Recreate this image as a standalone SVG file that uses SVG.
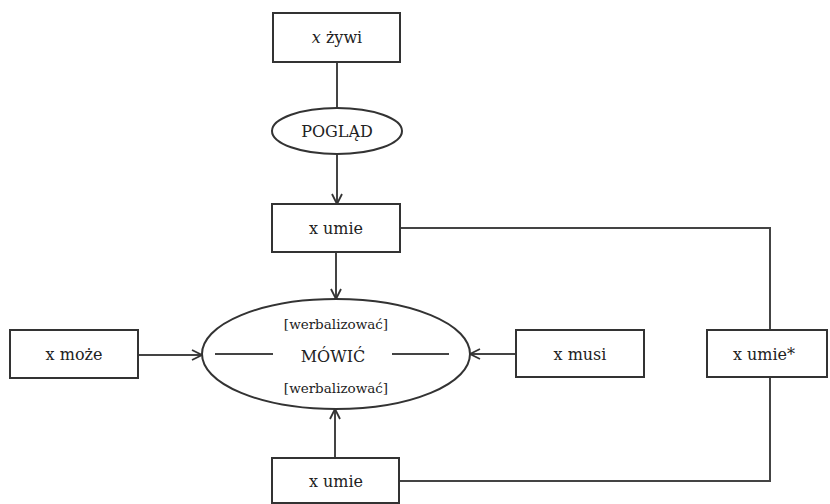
<svg xmlns="http://www.w3.org/2000/svg" width="830" height="504" viewBox="0 0 830 504">
<style>
.box{fill:#fff;stroke:#333;stroke-width:2}
.t{font-family:"DejaVu Serif","Liberation Serif",serif;font-size:16px;fill:#222;text-anchor:middle}
.s{font-size:13.5px}
.c{fill:none;stroke:#444;stroke-width:2}
</style>
<defs>
<marker id="ah" viewBox="0 0 12 12" refX="11" refY="6" markerWidth="12" markerHeight="12" markerUnits="userSpaceOnUse" orient="auto">
<path d="M1,1 L11,6 L1,11" fill="none" stroke="#333" stroke-width="1.8"/>
</marker>
</defs>
<rect width="830" height="504" fill="#fff"/>
<g id="connectors">
<line class="c" x1="337" y1="62" x2="337" y2="108"/>
<line class="c" x1="337" y1="155" x2="337" y2="204" marker-end="url(#ah)"/>
<line class="c" x1="336" y1="252" x2="336" y2="299" marker-end="url(#ah)"/>
<line class="c" x1="138" y1="355" x2="202" y2="355" marker-end="url(#ah)"/>
<line class="c" x1="516" y1="354" x2="470" y2="354" marker-end="url(#ah)"/>
<line class="c" x1="335" y1="458" x2="335" y2="409" marker-end="url(#ah)"/>
<polyline class="c" points="400,228 770,228 770,330"/>
<polyline class="c" points="770,377 770,481 399,481"/>
</g>
<g id="n-zywi">
<rect class="box" x="273" y="13" width="127" height="49"/>
<text class="t" x="337" y="43"><tspan font-style="italic">x</tspan> żywi</text>
</g>
<g id="n-poglad">
<ellipse class="box" cx="337" cy="131" rx="65" ry="23"/>
<text class="t" x="337" y="137" font-size="15">POGLĄD</text>
</g>
<g id="n-umie1">
<rect class="box" x="272" y="204" width="128" height="48"/>
<text class="t" x="336" y="234">x umie</text>
</g>
<g id="n-mowic">
<ellipse class="box" cx="336" cy="354" rx="134" ry="55"/>
<line class="c" x1="215" y1="354" x2="273" y2="354" stroke-width="1.6"/>
<line class="c" x1="392" y1="354" x2="449" y2="354" stroke-width="1.6"/>
<text class="t s" x="336" y="329">[werbalizować]</text>
<text class="t" x="333" y="362" font-size="20">MÓWIĆ</text>
<text class="t s" x="336" y="393">[werbalizować]</text>
</g>
<g id="n-moze">
<rect class="box" x="10" y="330" width="128" height="48"/>
<text class="t" x="74" y="360">x może</text>
</g>
<g id="n-musi">
<rect class="box" x="516" y="330" width="128" height="47"/>
<text class="t" x="580" y="360">x musi</text>
</g>
<g id="n-umie-star">
<rect class="box" x="707" y="330" width="120" height="47"/>
<text class="t" x="764" y="360">x umie*</text>
</g>
<g id="n-umie2">
<rect class="box" x="272" y="458" width="127" height="45"/>
<text class="t" x="336" y="487">x umie</text>
</g>
</svg>
